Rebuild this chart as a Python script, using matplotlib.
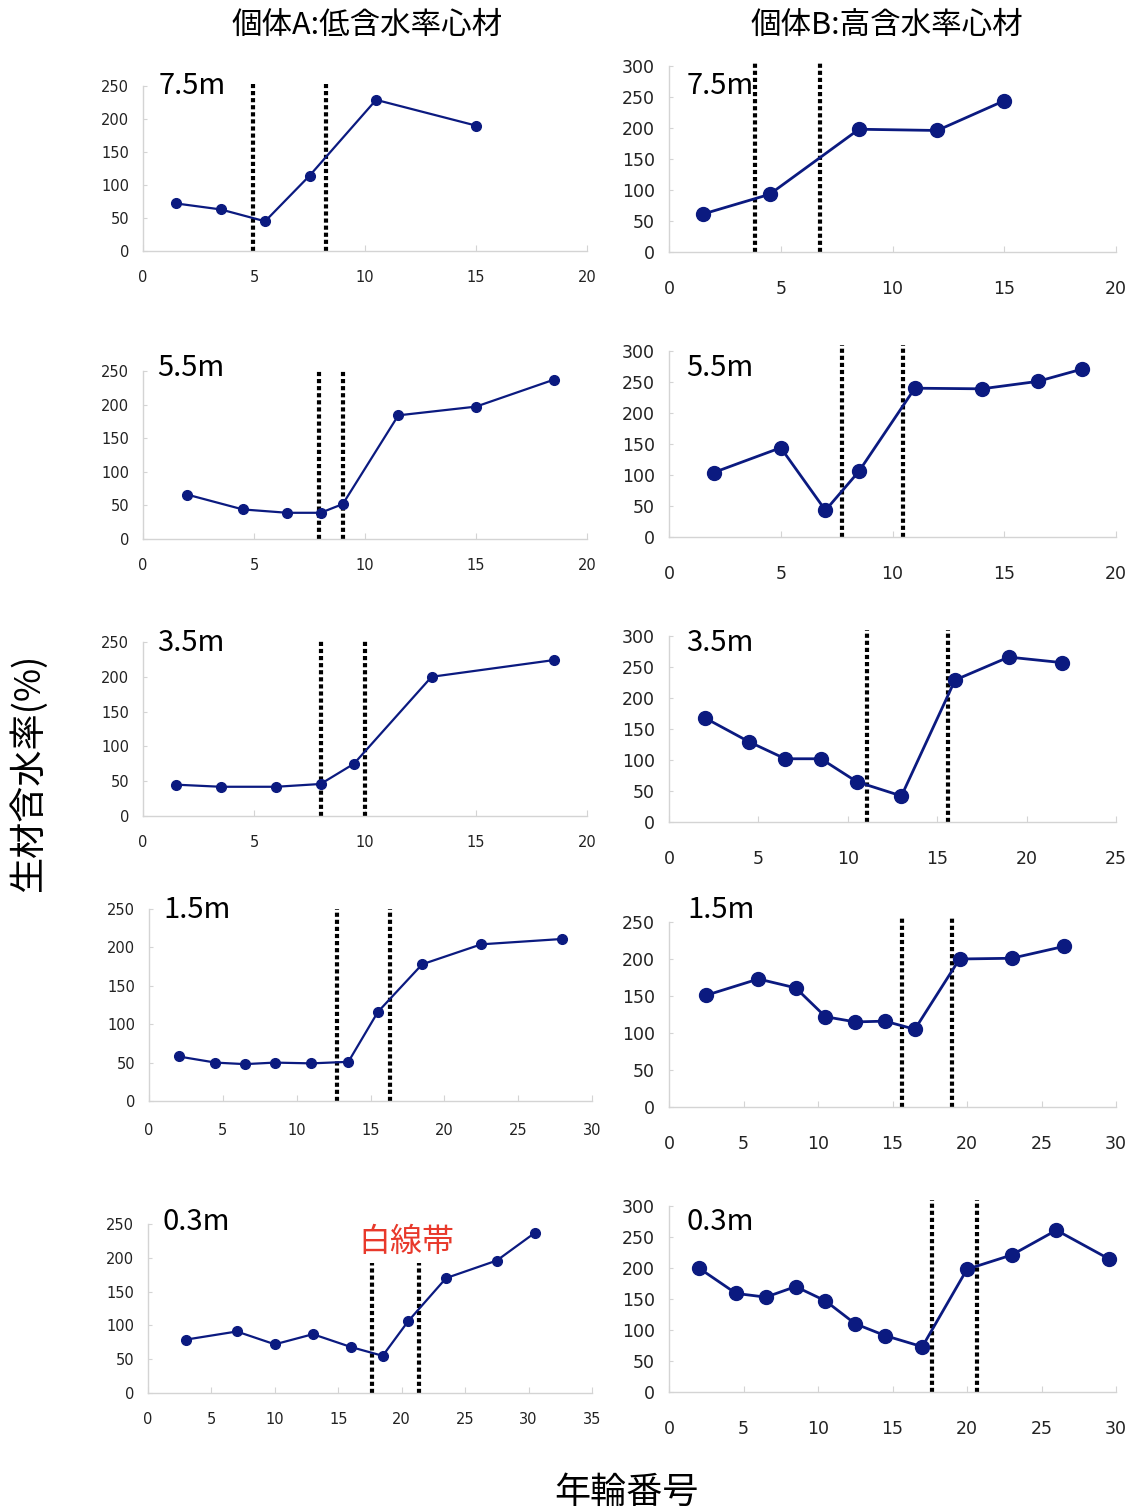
import matplotlib
matplotlib.use("Agg")
import matplotlib.pyplot as plt

plt.rcParams['font.family'] = ['DejaVu Sans', 'Noto Sans CJK JP']

# --- 個体A (低含水率心材) ---
a75_x = [1.5, 3.5, 5.5, 7.5, 10.5, 15]
a75_y = [72, 63, 45, 114, 229, 190]
a75_band = [4.95, 8.25]
a75_band_top = 253

a55_x = [2, 4.5, 6.5, 8, 9, 11.5, 15, 18.5]
a55_y = [66, 44, 39, 39, 52, 184, 197, 237]
a55_band = [7.95, 9.0]
a55_band_top = 250

a35_x = [1.5, 3.5, 6, 8, 9.5, 13, 18.5]
a35_y = [45, 42, 42, 46, 75, 200, 224]
a35_band = [8.0, 10.0]
a35_band_top = 252

a15_x = [2, 4.5, 6.5, 8.5, 11, 13.5, 15.5, 18.5, 22.5, 28]
a15_y = [58, 50, 48, 50, 49, 51, 116, 178, 204, 211]
a15_band = [12.7, 16.3]
a15_band_top = 250

a03_x = [3, 7, 10, 13, 16, 18.5, 20.5, 23.5, 27.5, 30.5]
a03_y = [79, 91, 72, 87, 68, 55, 106, 170, 196, 237]
a03_band = [17.66, 21.33]
a03_band_top = 193

# --- 個体B (高含水率心材) ---
b75_x = [1.5, 4.5, 8.5, 12, 15]
b75_y = [61, 93, 198, 196, 244]
b75_band = [3.87, 6.75]
b75_band_top = 305

b55_x = [2, 5, 7, 8.5, 11, 14, 16.5, 18.5]
b55_y = [104, 144, 43, 106, 240, 239, 251, 271]
b55_band = [7.76, 10.45]
b55_band_top = 310

b35_x = [2, 4.5, 6.5, 8.5, 10.5, 13, 16, 19, 22]
b35_y = [168, 129, 102, 102, 65, 42, 229, 266, 257]
b35_band = [11.08, 15.63]
b35_band_top = 310

b15_x = [2.5, 6, 8.5, 10.5, 12.5, 14.5, 16.5, 19.5, 23, 26.5]
b15_y = [151, 173, 161, 122, 115, 116, 105, 200, 201, 217]
b15_band = [15.67, 19.0]
b15_band_top = 257

b03_x = [2, 4.5, 6.5, 8.5, 10.5, 12.5, 14.5, 17, 20, 23, 26, 29.5]
b03_y = [200, 159, 153, 170, 147, 110, 91, 73, 198, 221, 261, 215]
b03_band = [17.64, 20.66]
b03_band_top = 310

heights = ['7.5m', '5.5m', '3.5m', '1.5m', '0.3m']

W, H = 1129, 1512
fig = plt.figure(figsize=(W / 100, H / 100), dpi=100)

NAVY = '#0b1a80'
GRID_GRAY = '#d4d4d4'


def panel(box, x, y, band, band_top, xmax, ymax, label, label_xy, big, xpad):
    left, right, top, bottom = box
    ax = fig.add_axes([left / W, 1 - bottom / H, (right - left) / W, (bottom - top) / H])
    ax.plot(x, y, color=NAVY, lw=2.0 if big else 1.6, marker='o',
            ms=10 if big else 7, clip_on=False, zorder=3)
    ax.vlines(band, 0, band_top, colors='black', lw=3.0,
              linestyles=[(0, (1, 0.7))], clip_on=False, zorder=2)
    ax.set_xlim(0, xmax)
    ax.set_ylim(0, ymax)
    ax.set_xticks(range(0, xmax + 1, 5))
    ax.set_yticks(range(0, ymax + 1, 50))
    for s in ['top', 'right']:
        ax.spines[s].set_visible(False)
    for s in ['left', 'bottom']:
        ax.spines[s].set_color(GRID_GRAY)
        ax.spines[s].set_linewidth(1.0)
    fs = 12.5 if big else 10.5
    ax.tick_params(axis='x', direction='in', length=4, color=GRID_GRAY,
                   labelsize=fs, pad=xpad, labelcolor='#222222')
    ax.tick_params(axis='y', direction='in', length=3, color=GRID_GRAY,
                   labelsize=fs, pad=10, labelcolor='#222222')
    fig.text(label_xy[0] / W, 1 - label_xy[1] / H, label, fontsize=21,
             family=['Noto Sans CJK JP'], ha='left', va='center', zorder=5)
    return ax


# 左列: 個体A
panel((143, 587, 86, 251), a75_x, a75_y, a75_band, a75_band_top, 20, 250,
      heights[0], (159, 86), False, 14)
panel((143, 587, 371, 539), a55_x, a55_y, a55_band, a55_band_top, 20, 250,
      heights[1], (157, 368), False, 14)
panel((143, 587, 642, 816), a35_x, a35_y, a35_band, a35_band_top, 20, 250,
      heights[2], (157, 643), False, 14)
panel((149, 592, 909, 1101), a15_x, a15_y, a15_band, a15_band_top, 30, 250,
      heights[3], (163, 910), False, 16)
ax_a03 = panel((148, 592, 1224, 1393), a03_x, a03_y, a03_band, a03_band_top, 35, 250,
               heights[4], (162, 1222), False, 14)
ax_a03.text(20.4, 224, '白線帯', color='#e8392b', fontsize=23,
            family=['Noto Sans CJK JP'], ha='center', va='center')

# 右列: 個体B
panel((669, 1116, 66, 252), b75_x, b75_y, b75_band, b75_band_top, 20, 300,
      heights[0], (687, 86), True, 20)
panel((669, 1116, 351, 537), b55_x, b55_y, b55_band, b55_band_top, 20, 300,
      heights[1], (686, 368), True, 20)
panel((669, 1116, 636, 822), b35_x, b35_y, b35_band, b35_band_top, 25, 300,
      heights[2], (686, 643), True, 20)
panel((669, 1116, 922, 1107), b15_x, b15_y, b15_band, b15_band_top, 30, 250,
      heights[3], (687, 910), True, 20)
panel((669, 1116, 1206, 1392), b03_x, b03_y, b03_band, b03_band_top, 30, 300,
      heights[4], (686, 1222), True, 20)

cjk = ['Noto Sans CJK JP', 'DejaVu Sans']
fig.text(367 / W, 1 - 25 / H, '個体A:低含水率心材', fontsize=22, family=cjk,
         ha='center', va='center')
fig.text(887 / W, 1 - 25 / H, '個体B:高含水率心材', fontsize=22, family=cjk,
         ha='center', va='center')
fig.text(28 / W, 1 - 773 / H, '生材含水率(%)', fontsize=26, family=cjk,
         rotation=90, ha='center', va='center')
fig.text(627 / W, 1 - 1493 / H, '年輪番号', fontsize=26, family=cjk,
         ha='center', va='center')

fig.savefig('out.png', dpi=100)
